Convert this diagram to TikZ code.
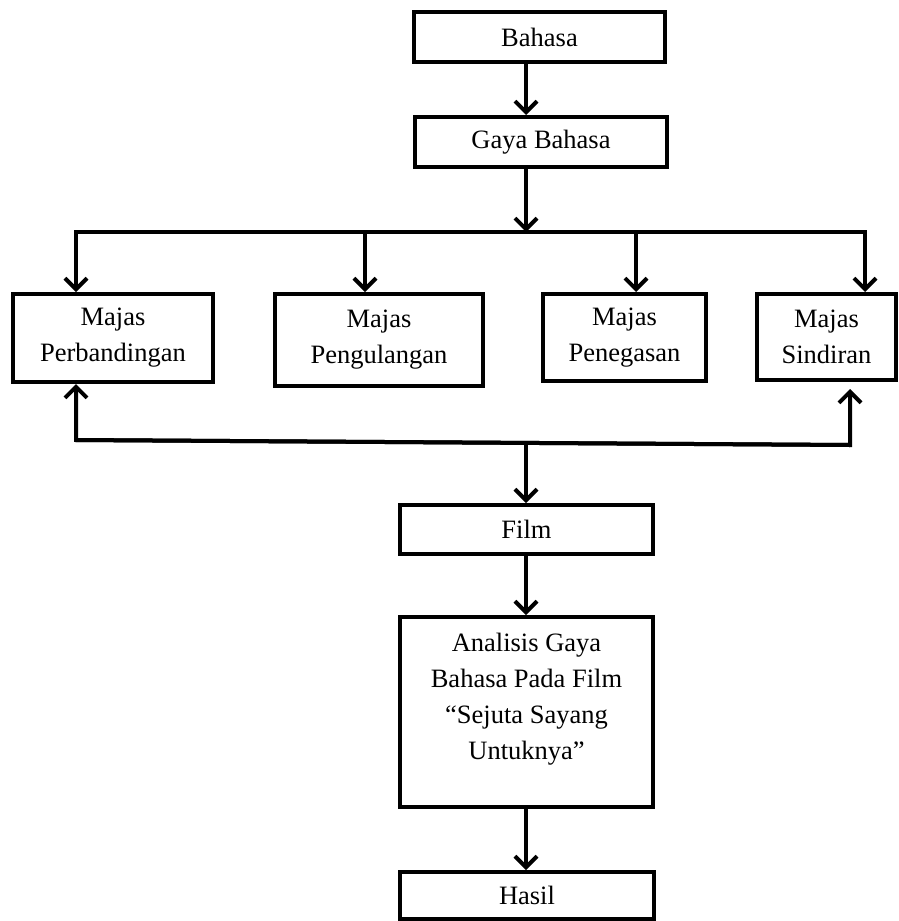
\documentclass[tikz,border=0pt]{standalone}
\usepackage{fontspec}
\setmainfont{Liberation Serif}
\usetikzlibrary{arrows.meta,calc}
\begin{document}
\begin{tikzpicture}[x=1pt,y=-1pt,
  txt/.style={inner sep=0pt, align=center, font=\fontsize{26.5}{36}\selectfont},
  box/.style={txt, draw, line width=4pt},
  arr/.style={line width=4pt, -{Straight Barb[length=11pt,width=22pt]}}]
\useasboundingbox (0,0) rectangle (898,921);
% boxes
\node[box, minimum width=251, minimum height=50] (bahasa) at (539.5,37) {Bahasa};
\node[box, minimum width=252, minimum height=50] (gaya) at (541,142) {Gaya Bahasa};
\node[box, minimum width=200, minimum height=88] (per) at (113,338) {Majas\\Perbandingan};
\node[box, minimum width=208, minimum height=92] (peng) at (379,340) {Majas\\Pengulangan};
\node[box, minimum width=163, minimum height=87] (pen) at (624.5,337.5) {Majas\\Penegasan};
\node[box, minimum width=139, minimum height=86] (sin) at (826.5,337) {Majas\\Sindiran};
\node[box, minimum width=253, minimum height=49] (film) at (526.5,529.5) {Film};
\node[box, minimum width=253, minimum height=190] (ana) at (526.5,712) {};
\node[txt, anchor=north] (anatext) at ($(ana.north)+(0,18)$) {Analisis Gaya\\Bahasa Pada Film\\“Sejuta Sayang\\Untuknya”};
\node[box, minimum width=254, minimum height=47] (hasil) at (527,895.5) {Hasil};
% junction coordinates
\coordinate (j1) at (526,232);
\coordinate (topL) at (76,232);
\coordinate (topR) at (865,232);
\coordinate (c2) at (365,232);
\coordinate (c3) at (636,232);
\coordinate (botL) at (76,440);
\coordinate (botR) at (850,445);
\coordinate (j2) at (526,443);
% connectors
\draw[arr] (bahasa.south -| j1) -- (gaya.north -| j1);
\draw[arr] (gaya.south -| j1) -- (j1);
\draw[arr] (topR) -- (topL) -- (topL |- per.north);
\draw[arr] (topL) -- (topR) -- (topR |- sin.north);
\draw[arr] (c2) -- (c2 |- peng.north);
\draw[arr] (c3) -- (c3 |- pen.north);
\draw[arr] (botR) -- (botL) -- (botL |- per.south);
\draw[arr] (botL) -- (botR) -- ($(botR |- sin.south)+(0,7)$);
\draw[arr] (j2) -- (j2 |- film.north);
\draw[arr] (film.south -| j1) -- (ana.north -| j1);
\draw[arr] (ana.south -| j1) -- (hasil.north -| j1);
\end{tikzpicture}
\end{document}
